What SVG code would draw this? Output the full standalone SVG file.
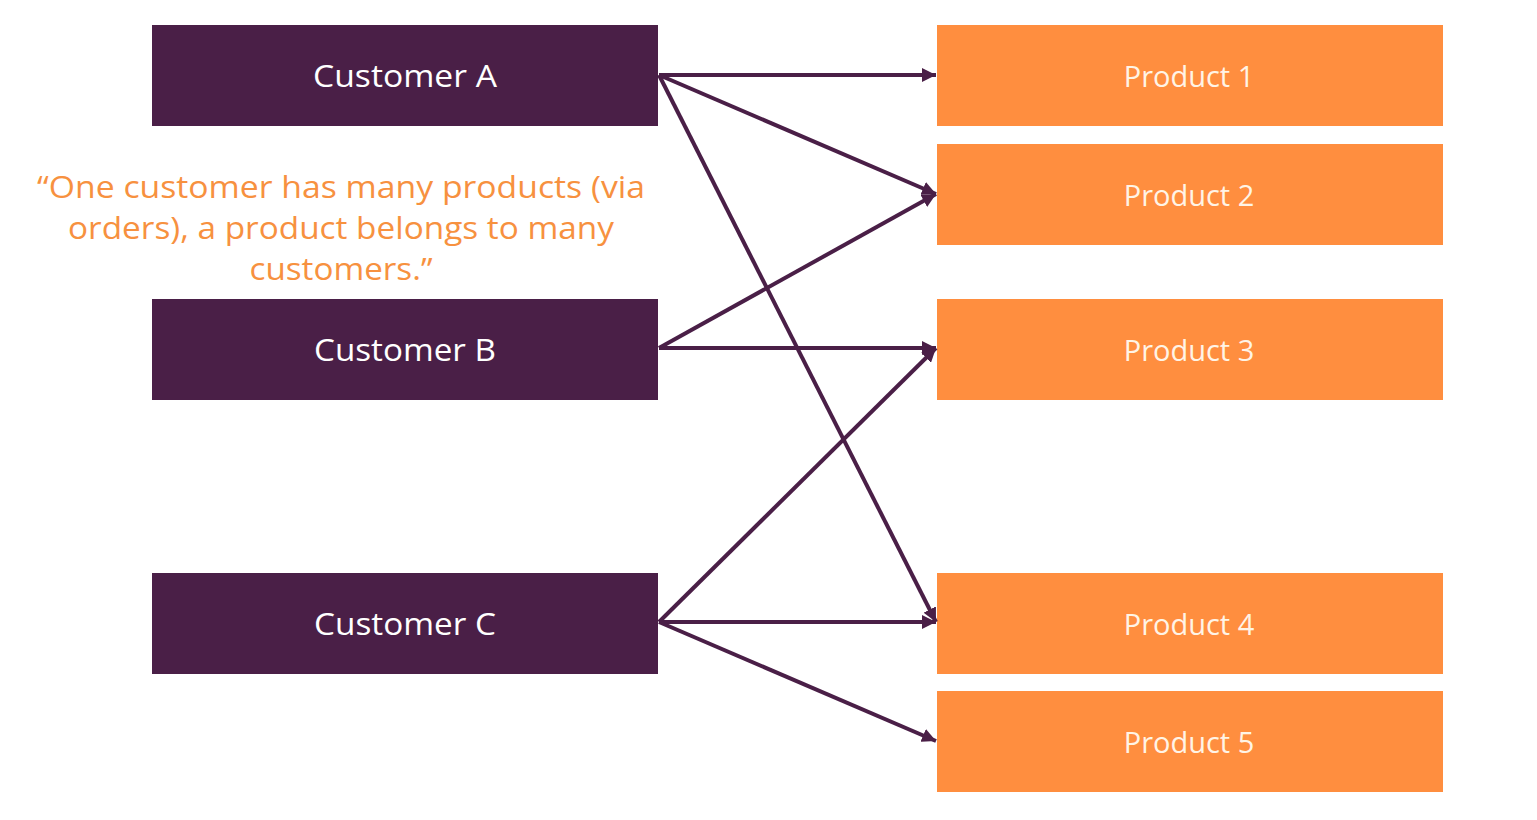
<svg xmlns="http://www.w3.org/2000/svg" width="1537" height="820" viewBox="0 0 1537 820">
<style>
.cust{fill:#4A1F47}
.prod{fill:#FF8E3F}
.ct{fill:#FFFFFF;font-family:"Open Sans",Lato,sans-serif;font-size:31px;text-anchor:middle;dominant-baseline:central}
.pt{fill:#FFF4E6;font-family:"Open Sans","Noto Sans",sans-serif;font-size:29px;text-anchor:middle;dominant-baseline:central}
.q{fill:#F7913F;font-family:"Open Sans",Lato,sans-serif;font-size:31px;text-anchor:middle}
.conn line{stroke:#4A1F47;stroke-width:4;marker-end:url(#ah)}
</style>
<defs>
<marker id="ah" viewBox="0 0 10 10" refX="10" refY="5" markerWidth="3.5" markerHeight="3.5" orient="auto" markerUnits="strokeWidth">
<path d="M0,0 L10,5 L0,10 z" fill="#4A1F47"/>
</marker>
</defs>
<rect width="1537" height="820" fill="#FFFFFF"/>
<g id="customerA"><rect class="cust" x="152" y="25" width="506" height="101"/><text class="ct" x="405" y="75" textLength="184" lengthAdjust="spacingAndGlyphs">Customer A</text></g>
<g id="customerB"><rect class="cust" x="152" y="299" width="506" height="101"/><text class="ct" x="405" y="349" textLength="182" lengthAdjust="spacingAndGlyphs">Customer B</text></g>
<g id="customerC"><rect class="cust" x="152" y="573" width="506" height="101"/><text class="ct" x="405" y="623" textLength="182" lengthAdjust="spacingAndGlyphs">Customer C</text></g>
<g id="product1"><rect class="prod" x="937" y="25" width="506" height="101"/><text class="pt" x="1189" y="75">Product 1</text></g>
<g id="product2"><rect class="prod" x="937" y="144" width="506" height="101"/><text class="pt" x="1189" y="194">Product 2</text></g>
<g id="product3"><rect class="prod" x="937" y="299" width="506" height="101"/><text class="pt" x="1189" y="349">Product 3</text></g>
<g id="product4"><rect class="prod" x="937" y="573" width="506" height="101"/><text class="pt" x="1189" y="623">Product 4</text></g>
<g id="product5"><rect class="prod" x="937" y="691" width="506" height="101"/><text class="pt" x="1189" y="741">Product 5</text></g>
<g id="quote">
<text class="q" x="341" y="198" textLength="608" lengthAdjust="spacingAndGlyphs">“One customer has many products (via</text>
<text class="q" x="341" y="239" textLength="546" lengthAdjust="spacingAndGlyphs">orders), a product belongs to many</text>
<text class="q" x="341" y="280" textLength="183" lengthAdjust="spacingAndGlyphs">customers.”</text>
</g>
<g id="connectors" class="conn">
<line x1="659" y1="75" x2="936" y2="75"/>
<line x1="659" y1="75" x2="936" y2="194"/>
<line x1="659" y1="75" x2="936" y2="622"/>
<line x1="659" y1="348" x2="936" y2="194"/>
<line x1="659" y1="348" x2="936" y2="348"/>
<line x1="659" y1="622" x2="936" y2="348"/>
<line x1="659" y1="622" x2="936" y2="622"/>
<line x1="659" y1="622" x2="936" y2="741"/>
</g>
</svg>
